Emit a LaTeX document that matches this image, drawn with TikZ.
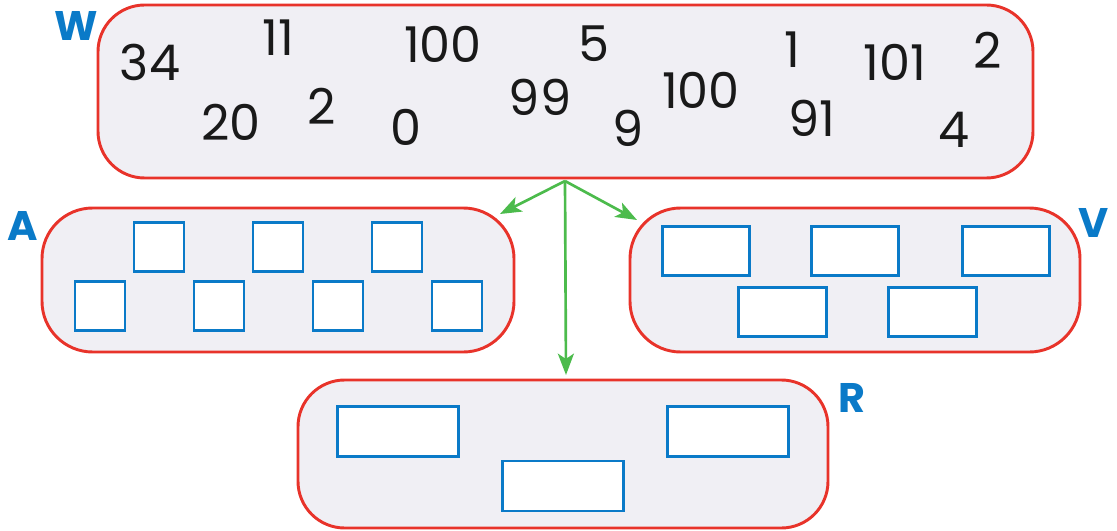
\documentclass[tikz,border=0pt]{standalone}
\usepackage{fontspec}
\setmainfont{Poppins}
\usetikzlibrary{arrows.meta}
\definecolor{boxred}{HTML}{E8332A}
\definecolor{boxfill}{HTML}{F0EFF4}
\definecolor{lblue}{HTML}{0A7AC8}
\definecolor{agreen}{HTML}{4CBB4C}
\begin{document}
\begin{tikzpicture}[x=0.75pt,y=-0.75pt,
  group/.style={draw=boxred,fill=boxfill,line width=2.2pt,rounded corners=#1},
  group/.default=35pt,
  slot/.style={draw=lblue,fill=white,line width=2.2pt,inner sep=0pt},
  num/.style={inner sep=0pt,font=\fontsize{37}{42}\selectfont,text=black!90},
  lbl/.style={inner sep=0pt,font=\bfseries\fontsize{31}{36}\selectfont,text=lblue},
  link/.style={draw=agreen,line width=2pt,-{Stealth[length=16pt,width=12pt,inset=4pt]}}]
\useasboundingbox (0,0) rectangle (1117,531);
% groups
\draw[group] (98,5) rectangle (1033,178);
\node[inner sep=0pt] (W) at (565.5,91.5) {};
\draw[group=38pt] (42,208) rectangle (514,352);
\node[inner sep=0pt] (A) at (278,280) {};
\draw[group=38pt] (630,208) rectangle (1080,352);
\node[inner sep=0pt] (V) at (855,280) {};
\draw[group] (298,380) rectangle (828,528);
\node[inner sep=0pt] (R) at (563,454) {};
% labels
\node[lbl] (lW) at (76,26) {W};
\node[lbl] (lA) at (23,226) {A};
\node[lbl] (lV) at (1094,223) {V};
\node[lbl] (lR) at (852,398) {R};
% numbers
\node[num] (n1) at (150,62) {34};
\node[num] (n2) at (278,38) {11};
\node[num] (n3) at (443,44) {100};
\node[num] (n4) at (594,44) {5};
\node[num] (n5) at (792,50) {1};
\node[num] (n6) at (895,62) {101};
\node[num] (n7) at (988,50) {2};
\node[num] (n8) at (231,122) {20};
\node[num] (n9) at (322,106) {2};
\node[num] (n10) at (406,127) {0};
\node[num] (n11) at (540,97) {99};
\node[num] (n12) at (628,128) {9};
\node[num] (n13) at (701,90) {100};
\node[num] (n14) at (812,118) {91};
\node[num] (n15) at (954,130) {4};
% A slots
\foreach \x/\y [count=\i] in {159/247,278/247,397/247,100/306,219/306,338/306,457/306}
  \node[slot,minimum width=37.5pt,minimum height=36.75pt] (a\i) at (\x,\y) {};
% V slots
\foreach \x/\y [count=\i] in {706/251,855/251,1006/251,782.5/312,932.5/312}
  \node[slot,minimum width=65.5pt,minimum height=36.75pt] (v\i) at (\x,\y) {};
% R slots
\foreach \x/\y [count=\i] in {398/431.5,728/431.5,563/486}
  \node[slot,minimum width=90.75pt,minimum height=37.5pt] (r\i) at (\x,\y) {};
% connectors
\coordinate (o) at (565,181);
\coordinate (aend) at (500,214);
\coordinate (vend) at (637,220);
\coordinate (rend) at (566,375);
\draw[link] (o) -- (aend);
\draw[link] (o) -- (vend);
\draw[link] (o) -- (rend);
\end{tikzpicture}
\end{document}
